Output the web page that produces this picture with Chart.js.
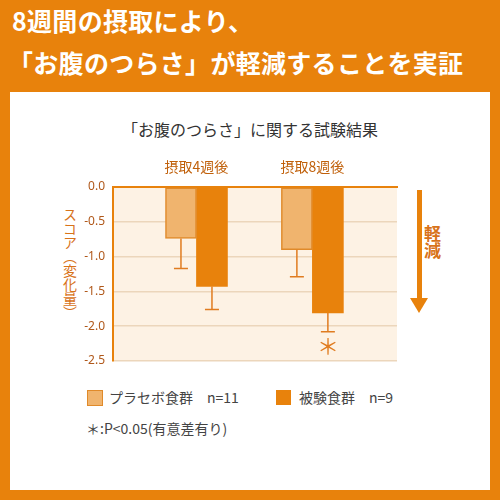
<!DOCTYPE html><html><head><meta charset="utf-8">
<script src="https://cdn.jsdelivr.net/npm/chart.js@4"></script>
<style>
body{margin:0;width:500px;height:500px;background:#e8820c;font-family:"Noto Sans CJK JP",sans-serif;position:relative;overflow:hidden}
.h{position:absolute;left:12px;color:#fff;font-weight:bold;font-size:25px;white-space:nowrap;letter-spacing:0.3px}
#panel{position:absolute;left:10px;top:92px;width:480px;height:398px;background:#fff}
.t{position:absolute;white-space:nowrap}
#wrap{position:absolute;left:60px;top:150px;width:400px;height:230px}
</style></head><body>
<div class="h" style="top:2px">8週間の摂取により、</div>
<div class="h" style="top:44px;left:8px">「お腹のつらさ」が軽減することを実証</div>
<div id="panel"></div>
<div class="t" style="left:0;width:500px;text-align:center;top:117px;font-size:16px;color:#333">「お腹のつらさ」に関する試験結果</div>
<div class="t" style="left:62px;top:208px;writing-mode:vertical-rl;font-size:14px;color:#d8731a;line-height:16px">スコア（変化量）</div>
<div class="t" style="left:420px;top:225px;writing-mode:vertical-rl;font-size:17px;font-weight:bold;color:#d8731a">軽減</div>
<div style="position:absolute;left:417px;top:190px;width:5px;height:110px;background:#e8820c"></div>
<div style="position:absolute;left:410px;top:298px;width:0;height:0;border-left:9px solid transparent;border-right:9px solid transparent;border-top:15px solid #e8820c"></div>
<div style="position:absolute;left:87px;top:390px;width:14px;height:14px;background:#f0b46e;border:1.5px solid #e08a2a"></div>
<div class="t" style="left:109px;top:387px;font-size:14px;color:#444">プラセボ食群　n=11</div>
<div style="position:absolute;left:276px;top:390px;width:15px;height:15px;background:#e8820c"></div>
<div class="t" style="left:299px;top:387px;font-size:14px;color:#444">被験食群　n=9</div>
<div class="t" style="left:86px;top:418px;font-size:14px;color:#444">＊:P&lt;0.05(有意差有り)</div>
<div id="wrap"><canvas id="c"></canvas></div>
<script>
const categories=['摂取4週後','摂取8週後'];
const seriesNames=['プラセボ食群','被験食群'];
const placebo=[-0.74,-0.90];
const placeboErr=[-1.17,-1.29];
const test=[-1.43,-1.81];
const testErr=[-1.76,-2.08];
const significant=[[false,false],[false,true]];
const yTicks=[0,-0.5,-1,-1.5,-2,-2.5];
const ORANGE='#e8820c';
const errPlugin={id:'err',
 beforeDraw(ch){const a=ch.chartArea,c=ch.ctx;c.save();c.fillStyle='#fdf2e4';c.fillRect(a.left,a.top,a.right-a.left,a.bottom-a.top);c.restore();},
 afterDatasetsDraw(ch){const c=ch.ctx,y=ch.scales.y;const errs=[placeboErr,testErr];
  ch.data.datasets.forEach((d,i)=>{ch.getDatasetMeta(i).data.forEach((b,j)=>{
   const y0=y.getPixelForValue(d.data[j].y),y1=y.getPixelForValue(errs[i][j]);
   c.save();c.strokeStyle='#e07c20';c.lineWidth=1.5;c.beginPath();c.moveTo(b.x,y0);c.lineTo(b.x,y1);c.moveTo(b.x-7,y1);c.lineTo(b.x+7,y1);c.stroke();
   if(significant[i][j]){c.fillStyle='#e07c20';c.font='22px "Noto Sans CJK JP"';c.textAlign='center';c.textBaseline='top';c.fillText('＊',b.x,y1+3);}
   c.restore();});});}};
new Chart(document.getElementById('c'),{type:'bar',
 data:{datasets:[
  {label:seriesNames[0],data:placebo.map((v,i)=>({x:i,y:v})),backgroundColor:'#f0b46e',borderColor:'#e08a2a',borderWidth:1.5,borderSkipped:false},
  {label:seriesNames[1],data:test.map((v,i)=>({x:i,y:v})),backgroundColor:ORANGE,borderWidth:0}]},
 options:{responsive:true,maintainAspectRatio:false,animation:false,
  layout:{padding:{right:63,bottom:19,left:0,top:0}},
  datasets:{bar:{barThickness:31,categoryPercentage:0.655,barPercentage:1}},
  plugins:{legend:{display:false},tooltip:{enabled:false}},
  scales:{
   x:{type:'linear',position:'top',min:-0.72,max:1.73,offset:false,
    afterBuildTicks(s){s.ticks=categories.map((_,i)=>({value:i}));},
    afterFit(s){s.height=37;},
    ticks:{callback:(v)=>categories[v],color:'#c0600a',font:{size:14,family:'"Noto Sans CJK JP"'},padding:4},
    grid:{display:false,offset:false},border:{display:true,color:ORANGE,width:2}},
   y:{min:-2.5,max:0,
    afterBuildTicks(s){s.ticks=yTicks.map(v=>({value:v}));},
    afterFit(s){s.width=53;},
    ticks:{callback:v=>v.toFixed(1),color:'#b0581a',font:{size:12,family:'"Noto Sans"'},padding:8},
    grid:{color:'#ecd6bb',drawTicks:false,lineWidth:1.5},border:{display:true,color:ORANGE,width:2}}}},
 plugins:[errPlugin]});
</script></body></html>
